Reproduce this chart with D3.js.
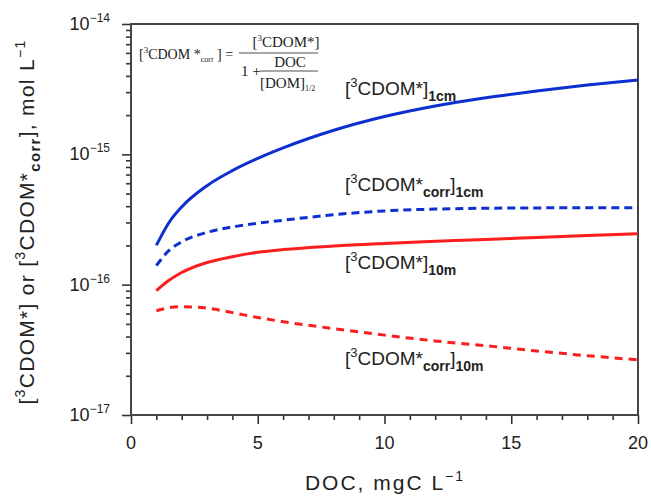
<!DOCTYPE html>
<html>
<head>
<meta charset="utf-8">
<script src="https://cdn.jsdelivr.net/npm/d3@7"></script>
<style>
  body { margin: 0; background: #fff; }
  text { font-family: "Liberation Sans", Arial, sans-serif; fill: #222; }
  .serif { font-family: "Liberation Serif", "Times New Roman", serif; }
</style>
</head>
<body>
<div id="chart"></div>
<script>
// DOC values (mgC/L) where the curves were read
var doc = [1, 1.5, 2, 3, 4, 5, 6, 8, 10, 12, 14, 16, 18, 20];

// [3CDOM*] 1 cm, solid blue
var cdom1cm = [2.0e-16, 3.0e-16, 3.95e-16, 5.75e-16, 7.5e-16, 9.3e-16, 1.12e-15, 1.53e-15,
  1.95e-15, 2.35e-15, 2.72e-15, 3.06e-15, 3.4e-15, 3.72e-15];
// [3CDOM*corr] 1 cm, dashed blue
var cdomCorr1cm = [1.4e-16, 1.83e-16, 2.13e-16, 2.52e-16, 2.77e-16, 2.96e-16, 3.12e-16, 3.44e-16,
  3.68e-16, 3.8e-16, 3.86e-16, 3.88e-16, 3.9e-16, 3.9e-16];
// [3CDOM*] 10 m, solid red
var cdom10m = [0.9e-16, 1.08e-16, 1.24e-16, 1.48e-16, 1.64e-16, 1.77e-16, 1.86e-16, 1.98e-16,
  2.07e-16, 2.15e-16, 2.22e-16, 2.3e-16, 2.38e-16, 2.46e-16];
// [3CDOM*corr] 10 m, dashed red
var cdomCorr10m = [6.3e-17, 6.65e-17, 6.78e-17, 6.6e-17, 6.1e-17, 5.6e-17, 5.2e-17, 4.6e-17,
  4.1e-17, 3.7e-17, 3.4e-17, 3.1e-17, 2.85e-17, 2.65e-17];

var xTicks = [0, 5, 10, 15, 20];
var yDecades = [-17, -16, -15, -14];

var W = 651, H = 496;
var margin = {top: 24, right: 13, bottom: 81, left: 131},
  width = W - margin.left - margin.right,
  height = H - margin.top - margin.bottom;

var svg = d3.select("#chart").append("svg")
  .attr("width", W)
  .attr("height", H);

var g = svg.append("g")
  .attr("transform", "translate(" + margin.left + "," + margin.top + ")");

var x = d3.scaleLinear().domain([0, 20]).range([0, width]);
var y = d3.scaleLog().domain([1e-17, 1e-14]).range([height, 0]);

// minor ticks
var yMinor = [];
yDecades.slice(0, 3).forEach(function(p) {
  for (var k = 2; k <= 9; k++) yMinor.push(k * Math.pow(10, p));
});
var xMinor = d3.range(0, 21).filter(function(v) { return v % 5 != 0; });

function styleAxis(sel) {
  sel.select(".domain").remove();
  sel.selectAll("line").attr("stroke", "#333").attr("stroke-width", 1.6);
  sel.selectAll("text").remove();
}

g.append("g")
  .call(d3.axisLeft(y).tickValues(yDecades.map(function(p) { return Math.pow(10, p); })).tickSize(9).tickFormat(""))
  .call(styleAxis);
g.append("g")
  .call(d3.axisLeft(y).tickValues(yMinor).tickSize(5).tickFormat(""))
  .call(styleAxis);
g.append("g")
  .attr("transform", "translate(0," + height + ")")
  .call(d3.axisBottom(x).tickValues(xTicks).tickSize(9).tickFormat(""))
  .call(styleAxis);
g.append("g")
  .attr("transform", "translate(0," + height + ")")
  .call(d3.axisBottom(x).tickValues(xMinor).tickSize(5).tickFormat(""))
  .call(styleAxis);

// frame
g.append("rect")
  .attr("width", width)
  .attr("height", height)
  .attr("fill", "none")
  .attr("stroke", "#444")
  .attr("stroke-width", 2);

// y tick labels 10^p
yDecades.forEach(function(p) {
  var t = g.append("text")
    .attr("x", -21)
    .attr("y", y(Math.pow(10, p)) + 6)
    .attr("text-anchor", "end")
    .style("font-size", "18px");
  t.append("tspan").text("10");
  t.append("tspan").attr("dy", -8).style("font-size", "12px").text("\u2212" + (-p));
});

// x tick labels
g.selectAll(".xlab")
  .data(xTicks)
  .enter().append("text")
  .attr("x", function(d) { return x(d); })
  .attr("y", height + 34)
  .attr("text-anchor", "middle")
  .style("font-size", "18px")
  .text(function(d) { return d; });

// series
var series = [
  {vals: cdom1cm, color: "#0d2fd0", dash: null},
  {vals: cdomCorr1cm, color: "#0d2fd0", dash: "8,5"},
  {vals: cdom10m, color: "#fa1e1e", dash: null},
  {vals: cdomCorr10m, color: "#fa1e1e", dash: "8,6"}
];

var line = d3.line()
  .x(function(d) { return x(d[0]); })
  .y(function(d) { return y(d[1]); })
  .curve(d3.curveMonotoneX);

series.forEach(function(s) {
  g.append("path")
    .datum(doc.map(function(v, i) { return [v, s.vals[i]]; }))
    .attr("fill", "none")
    .attr("stroke", s.color)
    .attr("stroke-width", 3)
    .attr("stroke-dasharray", s.dash)
    .attr("d", line);
});

// curve labels
function curveLabel(px, py, corr, sub) {
  var t = svg.append("text")
    .attr("x", px)
    .attr("y", py)
    .style("font-size", "19px");
  t.append("tspan").text("[");
  t.append("tspan").attr("dy", -8).style("font-size", "13px").text("3");
  t.append("tspan").attr("dy", 8).text("CDOM*");
  if (corr) {
    t.append("tspan").attr("dy", 6).style("font-size", "14px").style("font-weight", "bold").text("corr");
    t.append("tspan").attr("dy", -6).text("]");
  } else {
    t.append("tspan").text("]");
  }
  t.append("tspan").attr("dy", 6).style("font-size", "14px").style("font-weight", "bold").text(sub);
}
curveLabel(345, 95, false, "1cm");
curveLabel(345, 191, true, "1cm");
curveLabel(345, 269, false, "10m");
curveLabel(345, 365, true, "10m");

// formula
var f = svg.append("g").attr("class", "serif");
function ftext(px, py, anchor, size) {
  return f.append("text").attr("class", "serif")
    .attr("x", px).attr("y", py)
    .attr("text-anchor", anchor)
    .style("font-size", (size || 15) + "px");
}
var t1 = ftext(139, 59, "start", 14);
t1.append("tspan").text("[");
t1.append("tspan").attr("dy", -6).style("font-size", "9px").text("3");
t1.append("tspan").attr("dy", 6).text("CDOM *");
t1.append("tspan").attr("dy", 3).style("font-size", "8px").text("corr");
t1.append("tspan").attr("dy", -3).text(" ] =");

var t2 = ftext(286, 47, "middle");
t2.append("tspan").text("[");
t2.append("tspan").attr("dy", -6).style("font-size", "9px").text("3");
t2.append("tspan").attr("dy", 6).text("CDOM*]");

f.append("line").attr("x1", 239).attr("x2", 318).attr("y1", 53).attr("y2", 53)
  .attr("stroke", "#222").attr("stroke-width", 0.8);

ftext(241, 76, "start").text("1 +");
ftext(290, 67, "middle").text("DOC");
f.append("line").attr("x1", 260).attr("x2", 318).attr("y1", 71).attr("y2", 71)
  .attr("stroke", "#222").attr("stroke-width", 0.8);
var t3 = ftext(260, 88, "start");
t3.append("tspan").text("[DOM]");
t3.append("tspan").attr("dy", 3).style("font-size", "8px").text("1/2");

// axis titles
var xt = svg.append("text")
  .attr("x", 385)
  .attr("y", 490)
  .attr("text-anchor", "middle")
  .style("font-size", "21px")
  .style("letter-spacing", "2px");
xt.append("tspan").text("DOC,  mgC L");
xt.append("tspan").attr("dy", -9).style("font-size", "14px").text("\u22121");

var yt = svg.append("text")
  .attr("transform", "translate(34,222) rotate(-90)")
  .attr("text-anchor", "middle")
  .style("font-size", "21px")
  .style("letter-spacing", "1.3px");
yt.append("tspan").text("[");
yt.append("tspan").attr("dy", -9).style("font-size", "14px").text("3");
yt.append("tspan").attr("dy", 9).text("CDOM*] or [");
yt.append("tspan").attr("dy", -9).style("font-size", "14px").text("3");
yt.append("tspan").attr("dy", 9).text("CDOM*");
yt.append("tspan").attr("dy", 6).style("font-size", "15px").style("font-weight", "bold").text("corr");
yt.append("tspan").attr("dy", -6).text("],  mol L");
yt.append("tspan").attr("dy", -9).style("font-size", "14px").text("\u22121");
</script>
</body>
</html>
